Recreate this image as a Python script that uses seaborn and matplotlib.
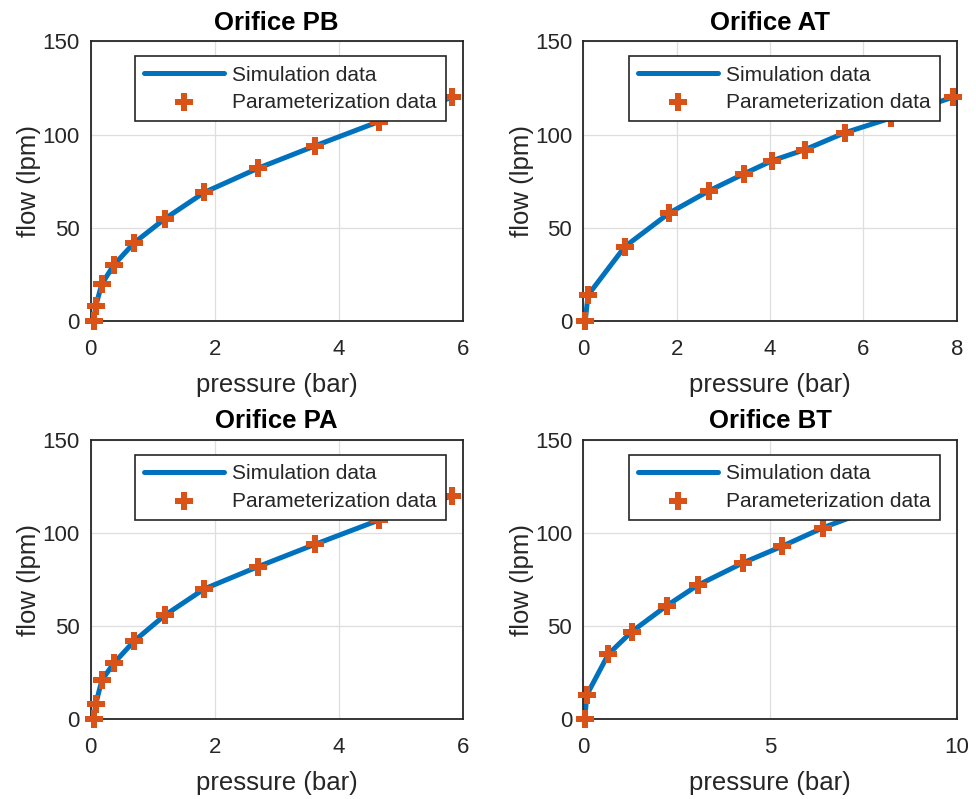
import numpy as np
import pandas as pd
import matplotlib
matplotlib.use("Agg")
import matplotlib.pyplot as plt
import seaborn as sns

# ============================
#  DATA
# ============================
pb_pressure = [0.05, 0.08, 0.18, 0.37, 0.70, 1.20, 1.83, 2.70, 3.62, 4.65, 5.83]
pb_flow = [0, 8, 20, 30, 42, 55, 69, 82, 94, 107, 120]

at_pressure = [0.04, 0.10, 0.89, 1.84, 2.70, 3.44, 4.04, 4.75, 5.60, 6.60, 7.91]
at_flow = [0, 14, 40, 58, 70, 79, 86, 92, 101, 109, 120]

pa_pressure = [0.05, 0.08, 0.18, 0.37, 0.70, 1.20, 1.83, 2.70, 3.62, 4.65, 5.83]
pa_flow = [0, 8, 21, 30, 42, 56, 70, 82, 94, 107, 120]

bt_pressure = [0.04, 0.09, 0.67, 1.29, 2.23, 3.06, 4.27, 5.33, 6.43, 7.90, 8.80]
bt_flow = [0, 13, 35, 47, 61, 72, 84, 93, 103, 114, 120]

titles = ["Orifice PB", "Orifice AT", "Orifice PA", "Orifice BT"]
x_limits = [6, 8, 6, 10]
x_steps = [2, 2, 2, 5]
y_ticks = [0, 50, 100, 150]

panels = [
    (pb_pressure, pb_flow),
    (at_pressure, at_flow),
    (pa_pressure, pa_flow),
    (bt_pressure, bt_flow),
]

# ============================
#  STYLE
# ============================
sns.set_style("whitegrid")
plt.rcParams["font.family"] = ["Liberation Sans", "DejaVu Sans"]

text_col = "#262626"
line_col = "#0072BD"
mark_col = "#D95319"

fig = plt.figure(figsize=(9.76, 7.99), dpi=100)

# axes boxes in figure fractions [left, bottom, width, height]
boxes = [
    [0.0929, 0.5979, 0.3811, 0.3504],
    [0.5977, 0.5979, 0.3826, 0.3504],
    [0.0929, 0.0997, 0.3811, 0.3496],
    [0.5977, 0.0997, 0.3826, 0.3496],
]

for i, (press, flow) in enumerate(panels):
    ax = fig.add_axes(boxes[i])
    df = pd.DataFrame({"pressure": press, "flow": flow})

    sns.lineplot(data=df, x="pressure", y="flow", ax=ax, color=line_col,
                 linewidth=3.6, sort=False, estimator=None,
                 label="Simulation data", zorder=2)
    sns.scatterplot(data=df, x="pressure", y="flow", ax=ax, color=mark_col,
                    marker="P", s=150, linewidth=0, clip_on=False,
                    label="Parameterization data", zorder=3)

    ax.set_xlim(0, x_limits[i])
    ax.set_ylim(0, 150)
    ax.set_xticks(np.arange(0, x_limits[i] + 0.1, x_steps[i]))
    ax.set_yticks(y_ticks)

    ax.set_title(titles[i], fontsize=18.5, fontweight="bold", color="black", pad=8.5)
    ax.set_xlabel("pressure (bar)", fontsize=18.5, color=text_col, labelpad=9)
    ax.set_ylabel("flow (lpm)", fontsize=18.5, color=text_col, labelpad=1)

    ax.tick_params(axis="both", direction="in", length=4, width=0.8,
                   labelsize=16, colors=text_col)
    ax.tick_params(axis="x", pad=13)
    ax.tick_params(axis="y", pad=8)

    ax.grid(True, color="#dedede", linewidth=0.9)
    for sp in ax.spines.values():
        sp.set_color(text_col)
        sp.set_linewidth(1.3)
        sp.set_visible(True)

    leg = ax.legend(loc="upper right", bbox_to_anchor=(0.955, 0.947),
                    borderaxespad=0, fontsize=15, frameon=True, fancybox=False,
                    framealpha=1, edgecolor=text_col, handlelength=3.8,
                    handletextpad=0.4, borderpad=0.45, labelspacing=0.4,
                    markerscale=1.0)
    leg.get_frame().set_linewidth(1.2)
    for t in leg.get_texts():
        t.set_color(text_col)

fig.savefig("out.png", dpi=100, facecolor="white")
